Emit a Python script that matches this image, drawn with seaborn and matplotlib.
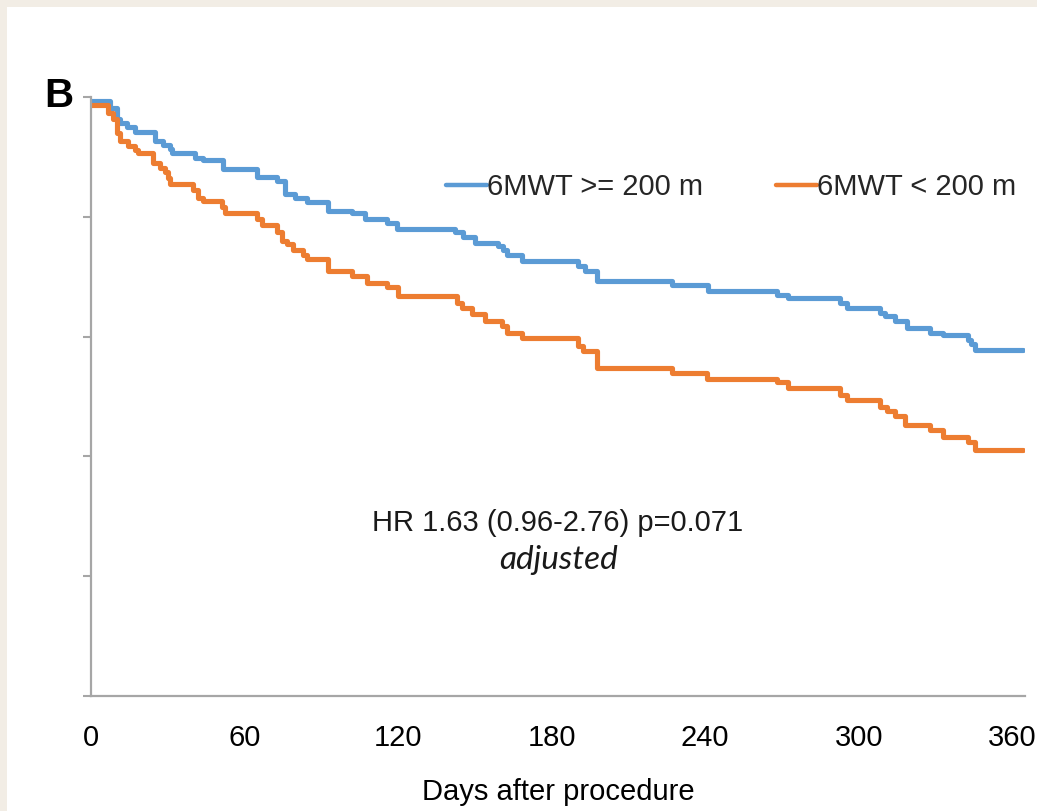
import numpy as np
import pandas as pd
import matplotlib
matplotlib.use("Agg")
import matplotlib.pyplot as plt
from matplotlib.lines import Line2D
from matplotlib.patches import Rectangle
import seaborn as sns

# ---- data ----
days_hi = [0, 7.4, 10.2, 11.3, 14.1, 17.2, 25.0, 28.1, 30.9, 31.6, 40.6, 43.8, 51.6, 64.8,
           72.7, 75.8, 79.7, 84.4, 92.6, 102.0, 107.0, 115.6, 119.5, 142.2, 145.3, 150.0,
           159.0, 160.9, 162.5, 168.4, 190.2, 193.0, 197.7, 227.0, 241.0, 268.0, 272.3,
           292.6, 295.3, 308.2, 310.2, 314.1, 318.8, 327.7, 332.8, 342.6, 343.8, 345.3, 364.1]
surv_hi = [0.997, 0.991, 0.982, 0.978, 0.975, 0.971, 0.963, 0.960, 0.957, 0.953, 0.949, 0.947,
           0.940, 0.933, 0.930, 0.919, 0.916, 0.912, 0.905, 0.903, 0.898, 0.895, 0.890, 0.887,
           0.883, 0.878, 0.876, 0.872, 0.868, 0.863, 0.859, 0.855, 0.846, 0.843, 0.838, 0.835,
           0.832, 0.828, 0.824, 0.820, 0.817, 0.813, 0.807, 0.803, 0.801, 0.797, 0.794, 0.789,
           0.789]

days_lo = [0, 6.6, 8.6, 10.2, 11.3, 14.5, 17.2, 18.4, 24.2, 27.0, 28.9, 30.1, 30.9, 39.8,
           41.8, 43.8, 51.2, 52.3, 64.8, 66.8, 72.7, 74.6, 76.6, 78.9, 82.8, 84.4, 92.6,
           102.0, 107.8, 115.6, 119.9, 143.0, 144.9, 148.8, 153.9, 160.5, 162.5, 168.4,
           190.2, 192.2, 197.7, 227.0, 240.6, 268.0, 272.3, 292.6, 295.3, 308.2, 310.9,
           314.1, 318.0, 327.7, 332.8, 342.6, 345.3, 364.1]
surv_lo = [0.993, 0.987, 0.982, 0.970, 0.963, 0.959, 0.956, 0.953, 0.945, 0.941, 0.937,
           0.932, 0.927, 0.922, 0.916, 0.913, 0.908, 0.903, 0.898, 0.893, 0.887, 0.880,
           0.8775, 0.872, 0.868, 0.865, 0.855, 0.851, 0.845, 0.841, 0.834, 0.828, 0.824,
           0.819, 0.813, 0.809, 0.803, 0.799, 0.7925, 0.788, 0.774, 0.770, 0.765, 0.762,
           0.757, 0.751, 0.747, 0.741, 0.738, 0.734, 0.726, 0.722, 0.716, 0.712, 0.705,
           0.705]

groups = ["6MWT >= 200 m", "6MWT < 200 m"]
x_ticks = [0, 60, 120, 180, 240, 300, 360]
y_ticks = [0.5, 0.6, 0.7, 0.8, 0.9, 1.0]
x_label = "Days after procedure"
hr_text = "HR 1.63 (0.96-2.76) p=0.071"
adj_text = "adjusted"
panel_letter = "B"

colors = {groups[0]: "#5B9BD5", groups[1]: "#ED7D31"}

df = pd.concat([
    pd.DataFrame({"day": days_hi, "surv": surv_hi, "group": groups[0]}),
    pd.DataFrame({"day": days_lo, "surv": surv_lo, "group": groups[1]}),
], ignore_index=True)

sns.set_theme(style="white")
plt.rcParams["font.family"] = ["Liberation Sans", "DejaVu Sans"]

W, H = 1037, 811
fig = plt.figure(figsize=(W / 100, H / 100), dpi=100)
fig.patch.set_facecolor("#F2EDE5")
fig.patches.append(Rectangle((7 / W, 0), 1 - 7 / W, 1 - 7 / H, transform=fig.transFigure,
                             facecolor="white", edgecolor="none", zorder=-10))

ax = fig.add_axes([91 / W, 1 - 696 / H, (1025 - 91) / W, (696 - 97) / H])
ax.set_facecolor("white")
ax.patch.set_alpha(0)

sns.lineplot(data=df, x="day", y="surv", hue="group", palette=colors, estimator=None,
             drawstyle="steps-post", linewidth=3.7, legend=False, ax=ax)

ax.set_xlim(0, 365)
ax.set_ylim(0.5, 1.0)
ax.set_xticks(x_ticks)
ax.set_xticklabels([str(t) for t in x_ticks], fontsize=21, color="black")
ax.set_yticks(y_ticks)
ax.set_yticklabels([])
ax.tick_params(axis="x", length=0, pad=20)
ax.tick_params(axis="y", length=6, width=1.5, color="#A6A6A6", direction="out", left=True)
for s in ["top", "right"]:
    ax.spines[s].set_visible(False)
for s in ["left", "bottom"]:
    ax.spines[s].set_color("#A6A6A6")
    ax.spines[s].set_linewidth(1.6)
ax.set_xlabel(x_label, fontsize=21, color="black", labelpad=19)
ax.set_ylabel("")
ax.grid(False)

handles = [Line2D([], [], color=colors[g], linewidth=3.2) for g in groups]
fig.legend(handles, groups, loc="center left", bbox_to_anchor=(446 / W, 1 - 187 / H),
           bbox_transform=fig.transFigure, ncol=2, frameon=False, fontsize=21,
           handlelength=1.4, handletextpad=0.0, columnspacing=2.5, borderpad=0,
           borderaxespad=0)

fig.text(558 / W, 1 - 531 / H, hr_text, fontsize=21, ha="center", va="baseline", color="#1a1a1a")
fig.text(559 / W, 1 - 569 / H, adj_text, fontsize=24, ha="center", va="baseline",
         style="italic", family=["Lato", "DejaVu Sans"], color="#1a1a1a")
fig.text(59 / W, 1 - 107 / H, panel_letter, fontsize=29, fontweight="bold", ha="center",
         va="baseline", color="black")

fig.savefig("out.png", dpi=100, facecolor=fig.get_facecolor())
